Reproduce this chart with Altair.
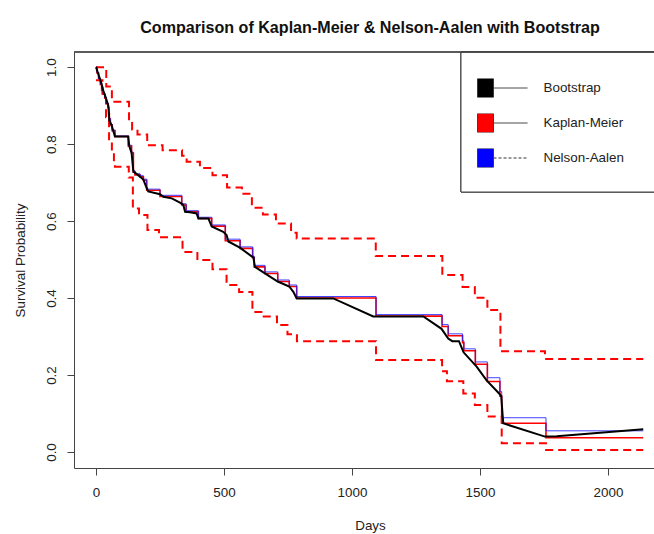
import altair as alt
import pandas as pd

FONT = "Liberation Sans"

# Kaplan-Meier estimate: step times (days) and survival after each step
km_time = [0, 4, 10, 17, 22, 28, 34, 40, 47, 50, 52, 56, 63, 74, 126, 139, 146, 152, 172, 185,
           198, 250, 335, 352, 400, 452, 505, 563, 612, 618, 660, 710, 755, 784, 1094, 1352, 1376,
           1432, 1437, 1482, 1529, 1578, 1585, 1758, 2138]
km_surv = [1.0, .985, .97, .955, .94, .93, .92, .905, .895, .88, .865, .85, .835, .82, .795, .777,
           .728, .72, .715, .706, .68, .664, .642, .624, .607, .587, .549, .529, .505, .481, .464,
           .443, .43, .40, .353, .326, .302, .284, .263, .228, .183, .145, .0745, .037, .037]

# Nelson-Aalen based survival at the same step times
na_surv = [1.0, .985, .97, .956, .941, .931, .921, .906, .896, .881, .866, .851, .836, .821, .797,
           .779, .731, .723, .718, .709, .683, .667, .645, .627, .610, .590, .553, .533, .509, .485,
           .468, .447, .434, .404, .357, .331, .307, .289, .268, .234, .193, .157, .089, .055, .055]

# Bootstrap mean survival curve
bs_time = [0, 5, 21, 28, 39, 48, 52, 61, 74, 126, 130, 139, 146, 152, 172, 185, 198, 204, 250, 263,
           296, 328, 341, 348, 367, 393, 400, 439, 452, 497, 510, 517, 562, 615, 621, 660, 710, 755,
           771, 784, 927, 1083, 1094, 1279, 1350, 1376, 1392, 1418, 1436, 1487, 1526, 1575, 1583,
           1591, 1754, 1800, 2138]
bs_surv = [1.0, .99, .958, .94, .919, .90, .862, .849, .82, .82, .795, .777, .728, .726, .715, .708,
           .686, .677, .670, .663, .659, .648, .642, .624, .623, .62, .607, .607, .586, .572, .564,
           .547, .531, .505, .481, .464, .443, .43, .416, .399, .399, .352, .352, .352, .32, .295,
           .288, .288, .259, .222, .186, .152, .146, .0745, .04, .041, .059]

# Bootstrap confidence band (upper and lower step curves)
up_time = [0, 40, 62, 129, 141, 162, 200, 260, 336, 354, 406, 455, 512, 570, 609, 652, 703, 762,
           784, 1093, 1353, 1432, 1480, 1529, 1580, 1754, 2138]
up_surv = [1.0, .95, .91, .86, .838, .825, .797, .784, .77, .754, .738, .719, .687, .671, .635, .617,
           .594, .57, .555, .509, .46, .429, .401, .369, .262, .2416, .2416]
lo_time = [0, 25, 39, 51, 62, 70, 74, 128, 144, 168, 201, 246, 338, 396, 455, 510, 559, 611, 650,
           707, 748, 785, 1094, 1352, 1371, 1435, 1480, 1529, 1585, 1758, 2138]
lo_surv = [.966, .92, .87, .81, .78, .755, .741, .713, .633, .616, .577, .558, .52, .499, .475, .434,
           .416, .364, .352, .33, .306, .288, .239, .21, .184, .152, .122, .092, .0225, .005, .005]

series_names = ["Bootstrap", "Kaplan-Meier", "Nelson-Aalen"]
series_colors = ["#000000", "#ff0000", "#0000ff"]
line_keys = ["boot_line", "km_line", "na_line"]
line_dashes = [[1, 0], [1, 0], [3, 2]]
x_ticks = [0, 500, 1000, 1500, 2000]
y_ticks = [0.0, 0.2, 0.4, 0.6, 0.8, 1.0]

km_df = pd.DataFrame({"t": km_time, "s": km_surv})
na_df = pd.DataFrame({"t": km_time, "s": na_surv})
bs_df = pd.DataFrame({"t": bs_time, "s": bs_surv})
up_df = pd.DataFrame({"t": up_time, "s": up_surv})
lo_df = pd.DataFrame({"t": lo_time, "s": lo_surv})
leg_df = pd.DataFrame({"series": series_names, "line_key": line_keys})

W, H = 580, 416
TXT = 13.4

x_enc = alt.X(
    "t:Q",
    scale=alt.Scale(domain=[-86, 2180], nice=False, zero=False),
    axis=alt.Axis(
        values=x_ticks, format="d", grid=False, tickSize=7, tickColor="#444",
        domainColor="#444", labelFont=FONT, labelFontSize=TXT, labelColor="#222",
        labelPadding=10, labelFlush=False, title="Days", titleFont=FONT,
        titleFontSize=TXT, titleFontWeight="normal", titleColor="#222",
        titleX=296, titleY=57, titleBaseline="middle",
    ),
)
y_enc = alt.Y(
    "s:Q",
    scale=alt.Scale(domain=[-0.0416, 1.0394], nice=False, zero=False),
    axis=alt.Axis(
        values=y_ticks, format=".1f", grid=False, tickSize=7, tickColor="#444",
        domainColor="#444", labelFont=FONT, labelFontSize=TXT, labelColor="#222",
        labelAngle=270, labelAlign="center", labelBaseline="bottom", labelPadding=9,
        labelFlush=False, title="Survival Probability", titleFont=FONT, titleFontSize=TXT,
        titleFontWeight="normal", titleColor="#222", titleAngle=270, titleX=-54,
        titleY=H / 2, titleBaseline="middle",
    ),
)

# top edge of the plot box
frame_top = alt.Chart(leg_df).mark_rule(color="#444", strokeWidth=1).encode(
    x=alt.value(0), x2=alt.value(W), y=alt.value(0)
)

# legend box
legend_box = alt.Chart(leg_df).mark_rect(fill="white", stroke="#444", strokeWidth=1).encode(
    x=alt.value(387), x2=alt.value(620), y=alt.value(0), y2=alt.value(140)
)

dash = [8, 5]
upper = alt.Chart(up_df).mark_line(interpolate="step-after", color="#ff0000",
                                   strokeWidth=2, strokeDash=dash).encode(x=x_enc, y=y_enc)
lower = alt.Chart(lo_df).mark_line(interpolate="step-after", color="#ff0000",
                                   strokeWidth=2, strokeDash=dash).encode(x=x_enc, y=y_enc)
km = alt.Chart(km_df).mark_line(interpolate="step-after", color="#ff0000",
                                strokeWidth=1.6).encode(x=x_enc, y=y_enc)
na = alt.Chart(na_df).mark_line(interpolate="step-after", color="#2020ff",
                                strokeWidth=1, opacity=0.85).encode(x=x_enc, y=y_enc)
boot = alt.Chart(bs_df).mark_line(color="#000000", strokeWidth=2).encode(x=x_enc, y=y_enc)

# legend: filled boxes with labels
leg_boxes = alt.Chart(leg_df).mark_point(size=0, filled=True, shape="square").encode(
    fill=alt.Fill(
        "series:N",
        scale=alt.Scale(domain=series_names, range=series_colors),
        legend=alt.Legend(
            orient="none", legendX=401.5, legendY=26.5, title=None, padding=0,
            symbolType="M-0.84,-1H0.84V1H-0.84Z", symbolSize=361, symbolOpacity=1,
            symbolStrokeColor="#222", symbolStrokeWidth=0.8, labelFont=FONT,
            labelFontSize=TXT, labelColor="#222", labelOffset=48, rowPadding=16,
            clipHeight=19,
        ),
    )
)
# legend: line samples next to the boxes
leg_lines = alt.Chart(leg_df).mark_point(size=0).encode(
    strokeDash=alt.StrokeDash(
        "line_key:N",
        scale=alt.Scale(domain=line_keys, range=line_dashes),
        legend=alt.Legend(
            orient="none", legendX=419, legendY=26.5, title=None, padding=0,
            symbolType="stroke", symbolSize=1156, symbolOpacity=1,
            symbolStrokeColor="#333", symbolStrokeWidth=1, labelExpr="''",
            rowPadding=16, clipHeight=19,
        ),
    )
)

chart = alt.layer(
    legend_box, upper, lower, km, na, boot, frame_top, leg_boxes, leg_lines
).properties(
    width=W,
    height=H,
    padding={"left": 74, "top": 52, "right": 0, "bottom": 66},
    autosize=alt.AutoSizeParams(type="none"),
    title=alt.TitleParams(
        text="Comparison of Kaplan-Meier & Nelson-Aalen with Bootstrap",
        font=FONT, fontSize=16.1, fontWeight="bold", color="#111",
        anchor="middle", dx=6, offset=15,
    ),
).configure_view(stroke=None)

chart.save("out.html", embed_options={"renderer": "svg", "actions": False})
